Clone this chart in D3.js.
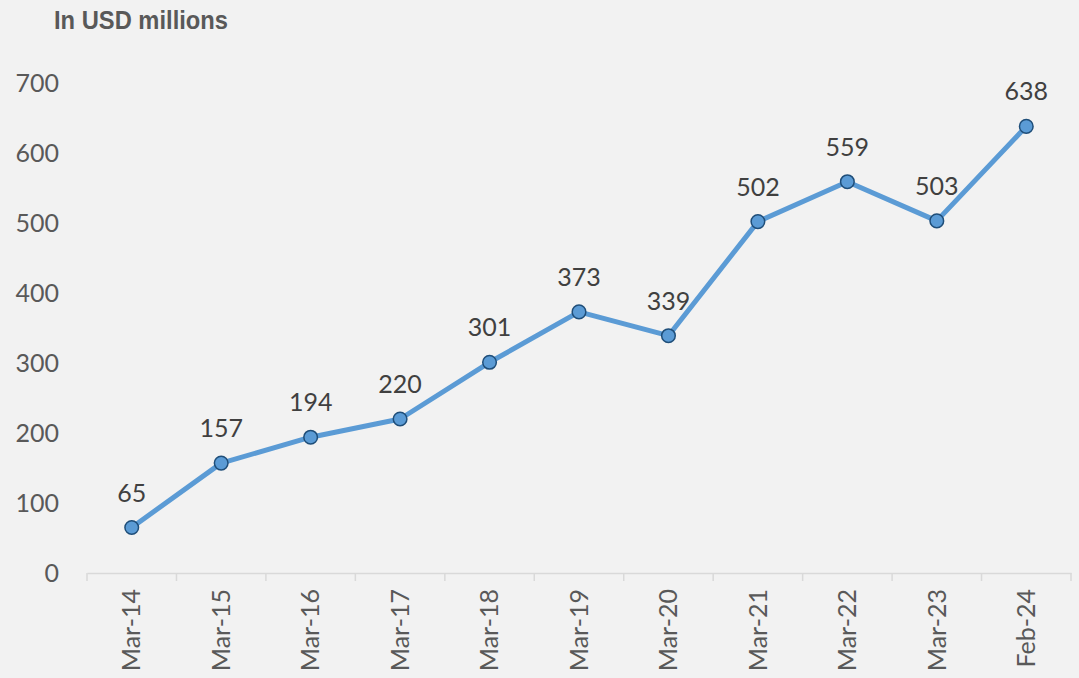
<!DOCTYPE html>
<html>
<head>
<meta charset="utf-8">
<script src="https://cdn.jsdelivr.net/npm/d3@7"></script>
<style>
  html, body { margin: 0; padding: 0; background: #f2f2f2; }
  svg { display: block; }
</style>
</head>
<body>
<div id="chart"></div>
<script>
const categories = ["Mar-14", "Mar-15", "Mar-16", "Mar-17", "Mar-18", "Mar-19",
  "Mar-20", "Mar-21", "Mar-22", "Mar-23", "Feb-24"];
const values = [65, 157, 194, 220, 301, 373, 339, 502, 559, 503, 638];
const yTicks = [0, 100, 200, 300, 400, 500, 600, 700];
const unitLabel = "In USD millions";

const width = 1079, height = 678;
const margin = { top: 83, right: 8, bottom: 105, left: 87 };
const innerW = width - margin.left - margin.right;
const innerH = height - margin.top - margin.bottom;
const numFont = "Lato, 'Open Sans', sans-serif";

const svg = d3.select("#chart").append("svg")
  .attr("width", width)
  .attr("height", height);

svg.append("rect").attr("width", width).attr("height", height).attr("fill", "#f2f2f2");

// condensed bold unit label
svg.append("text")
  .attr("x", 54)
  .attr("y", 29)
  .attr("font-family", "'Liberation Sans', Arial, sans-serif")
  .attr("font-weight", "bold")
  .attr("font-size", 26)
  .attr("textLength", 174)
  .attr("lengthAdjust", "spacingAndGlyphs")
  .attr("fill", "#595959")
  .text(unitLabel);

const g = svg.append("g").attr("transform", `translate(${margin.left},${margin.top})`);

const x = d3.scaleBand().domain(categories).range([0, innerW]);
const y = d3.scaleLinear().domain([0, 700]).range([innerH, 0]);

// y axis labels (no line)
const yAxis = g.append("g")
  .call(d3.axisLeft(y).tickValues(yTicks).tickSize(0).tickPadding(28));
yAxis.select(".domain").remove();
yAxis.selectAll("text")
  .attr("font-family", numFont)
  .attr("font-size", 25)
  .attr("fill", "#595959");

// x axis with ticks between categories
const xAxis = g.append("g")
  .attr("transform", `translate(0,${innerH})`)
  .call(d3.axisBottom(x).tickSize(0).tickSizeOuter(0));
xAxis.select(".domain").attr("stroke", "#d9d9d9").attr("stroke-width", 1.5);
xAxis.selectAll(".tick line").remove();
xAxis.selectAll(".tick text")
  .attr("font-family", numFont)
  .attr("font-size", 25)
  .attr("fill", "#595959")
  .attr("transform", "rotate(-90)")
  .attr("text-anchor", "end")
  .attr("x", -16)
  .attr("y", 0)
  .attr("dy", "0.35em");

g.append("g")
  .selectAll("line")
  .data(d3.range(categories.length + 1))
  .join("line")
  .attr("x1", (i) => i * x.bandwidth())
  .attr("x2", (i) => i * x.bandwidth())
  .attr("y1", innerH)
  .attr("y2", innerH + 8)
  .attr("stroke", "#d9d9d9")
  .attr("stroke-width", 1.5);

const data = categories.map((c, i) => ({ cat: c, val: values[i] }));
const cx = (d) => x(d.cat) + x.bandwidth() / 2;

const line = d3.line().x(cx).y((d) => y(d.val));

g.append("path")
  .datum(data)
  .attr("d", line)
  .attr("fill", "none")
  .attr("stroke", "#5b9bd5")
  .attr("stroke-width", 5)
  .attr("stroke-linejoin", "round");

g.selectAll(".dot")
  .data(data)
  .join("circle")
  .attr("class", "dot")
  .attr("cx", cx)
  .attr("cy", (d) => y(d.val))
  .attr("r", 6.8)
  .attr("fill", "#5b9bd5")
  .attr("stroke", "#1f4e79")
  .attr("stroke-width", 1.5);

g.selectAll(".lbl")
  .data(data)
  .join("text")
  .attr("class", "lbl")
  .attr("x", cx)
  .attr("y", (d) => y(d.val) - 26)
  .attr("text-anchor", "middle")
  .attr("font-family", numFont)
  .attr("font-size", 25)
  .attr("fill", "#404040")
  .text((d) => d.val);
</script>
</body>
</html>
